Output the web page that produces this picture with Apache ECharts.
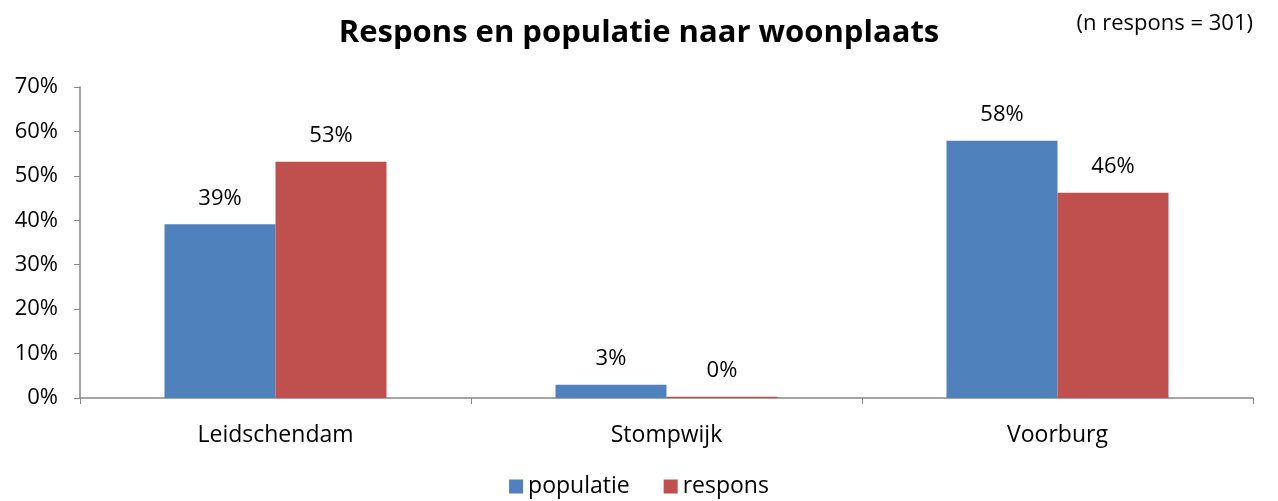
<!DOCTYPE html>
<html><head><meta charset="utf-8">
<script src="https://cdn.jsdelivr.net/npm/echarts@6/dist/echarts.min.js"></script>
<style>html,body{margin:0;padding:0;background:#fff}#c{width:1278px;height:501px}</style>
</head><body><div id="c"></div>
<script>
const categories = ['Leidschendam', 'Stompwijk', 'Voorburg'];
const populatie = [39.1, 3.0, 57.9];
const respons = [53.2, 0.3, 46.2];
const yTicks = [0, 10, 20, 30, 40, 50, 60, 70];

const FONT = '"Open Sans", "Noto Sans", sans-serif';
const chart = echarts.init(document.getElementById('c'), null, {renderer: 'canvas'});
const lbl = {show: true, position: 'top', distance: 15, fontFamily: FONT, fontSize: 22, color: '#000',
  formatter: p => Math.round(p.value) + '%'};
chart.setOption({
  animation: false,
  title: [{text: 'Respons en populatie naar woonplaats', left: 'center', top: 13,
    textStyle: {fontFamily: FONT, fontSize: 31, fontWeight: 'bold', color: '#000'}},
    {text: '(n respons = 301)', right: 20, top: 8, textStyle: {fontFamily: FONT, fontSize: 22, fontWeight: 'normal', color: '#000'}}],
  legend: {bottom: -2, left: 'center', itemWidth: 14, itemHeight: 14, itemGap: 34, icon: 'rect',
    textStyle: {fontFamily: FONT, fontSize: 23, color: '#000'}, data: ['populatie', 'respons']},
  grid: {left: 80, right: 25, top: 87, bottom: 103, containLabel: false},
  xAxis: {type: 'category', data: categories,
    axisLine: {lineStyle: {color: '#868686', width: 1.5}},
    axisTick: {show: true, alignWithLabel: false, length: 6, lineStyle: {color: '#868686'}},
    axisLabel: {fontFamily: FONT, fontSize: 23, color: '#000', margin: 26}},
  yAxis: {type: 'value', min: yTicks[0], max: yTicks[yTicks.length - 1], interval: 10,
    splitLine: {show: false},
    axisLine: {show: true, lineStyle: {color: '#868686', width: 1.5}},
    axisTick: {show: true, length: 6, lineStyle: {color: '#868686'}},
    axisLabel: {fontFamily: FONT, fontSize: 22, color: '#000', margin: 22, formatter: v => v + '%'}},
  series: [
    {name: 'populatie', type: 'bar', data: populatie, barWidth: 111, barGap: '0%',
      itemStyle: {color: '#4F81BD'}, label: lbl},
    {name: 'respons', type: 'bar', data: respons, barWidth: 111, barGap: '0%',
      itemStyle: {color: '#C0504D'}, label: lbl}
  ]
});
</script></body></html>
